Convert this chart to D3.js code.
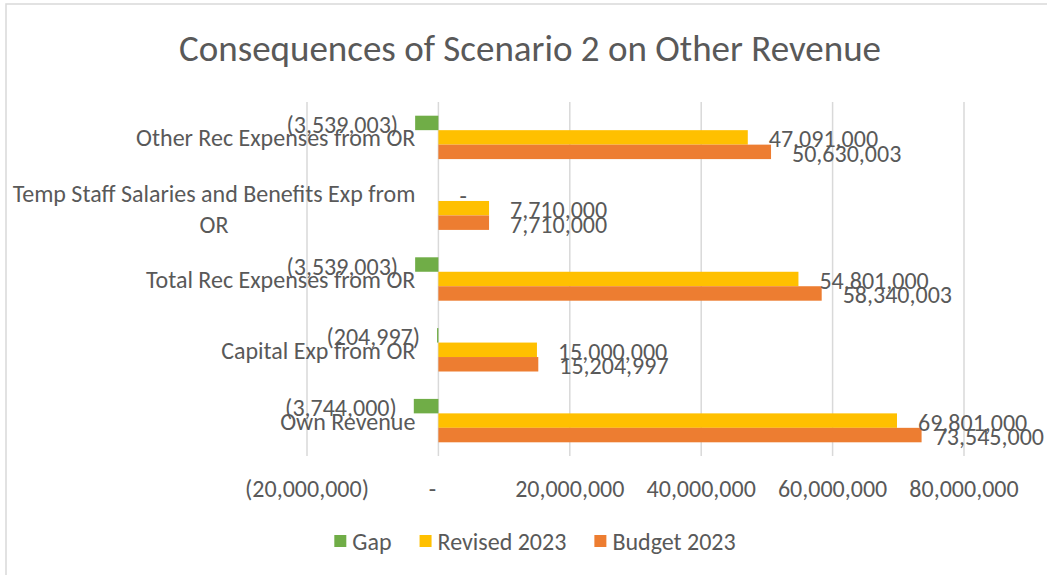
<!DOCTYPE html>
<html>
<head>
<meta charset="utf-8">
<script src="https://cdn.jsdelivr.net/npm/d3@7"></script>
<style>
  body { margin: 0; background: #fff; }
  svg { display: block; font-family: Carlito, Calibri, Lato, sans-serif; }
</style>
</head>
<body>
<svg id="chart" width="1047" height="575"></svg>
<script>
const categories = [
  'Other Rec Expenses from OR',
  'Temp Staff Salaries and Benefits Exp from OR',
  'Total Rec Expenses from OR',
  'Capital Exp from OR',
  'Own Revenue'
]
const seriesNames = ['Gap', 'Revised 2023', 'Budget 2023']
const gap = [-3539003, 0, -3539003, -204997, -3744000]
const revised2023 = [47091000, 7710000, 54801000, 15000000, 69801000]
const budget2023 = [50630003, 7710000, 58340003, 15204997, 73545000]
const tickValues = [-20000000, 0, 20000000, 40000000, 60000000, 80000000]

const colors = { 'Gap': '#70AD47', 'Revised 2023': '#FFC000', 'Budget 2023': '#ED7D31' }
const textColor = '#595959'

const svg = d3.select('#chart')

// outer frame (only top and left visible in the shot)
svg.append('rect')
  .attr('x', 6).attr('y', 4)
  .attr('width', 1100).attr('height', 700)
  .attr('fill', 'none')
  .attr('stroke', '#d9d9d9')
  .attr('stroke-width', 1.5)

svg.append('text')
  .attr('x', 530).attr('y', 48)
  .attr('text-anchor', 'middle')
  .attr('dominant-baseline', 'central')
  .attr('fill', textColor)
  .style('font-size', '37px')
  .text('Consequences of Scenario 2 on Other Revenue')

const x = d3.scaleLinear()
  .domain([-20000000, 80000000])
  .range([307, 964])

const y = d3.scaleBand()
  .domain(categories)
  .range([102, 456])
  .paddingInner(0.387)
  .paddingOuter(0.1935)

const y1 = d3.scaleBand()
  .domain(seriesNames)
  .range([0, y.bandwidth()])

// gridlines
svg.append('g')
  .selectAll('line')
  .data(tickValues)
  .enter()
  .append('line')
  .attr('x1', d => x(d)).attr('x2', d => x(d))
  .attr('y1', 102).attr('y2', 456)
  .attr('stroke', '#d9d9d9')
  .attr('stroke-width', 1.5)

// tick labels
const fmt = d3.format(',')
function tickText(v) {
  if (v === 0) return '-'
  if (v < 0) return '(' + fmt(-v) + ')'
  return fmt(v)
}
svg.append('g')
  .selectAll('text')
  .data(tickValues)
  .enter()
  .append('text')
  .attr('x', d => x(d) + (d === 0 ? -6 : 0))
  .attr('y', 488)
  .attr('text-anchor', 'middle')
  .attr('dominant-baseline', 'central')
  .attr('fill', textColor)
  .style('font-size', '24px')
  .text(tickText)

// rows
const rows = categories.map((c, i) => ({
  category: c,
  values: [
    { name: 'Gap', value: gap[i] },
    { name: 'Revised 2023', value: revised2023[i] },
    { name: 'Budget 2023', value: budget2023[i] }
  ]
}))

const group = svg.append('g')
  .selectAll('g')
  .data(rows)
  .enter()
  .append('g')
  .attr('transform', d => 'translate(0,' + y(d.category) + ')')

group.selectAll('rect')
  .data(d => d.values)
  .enter()
  .append('rect')
  .attr('x', d => x(Math.min(0, d.value)))
  .attr('width', d => Math.abs(x(d.value) - x(0)))
  .attr('y', d => y1(d.name))
  .attr('height', y1.bandwidth())
  .attr('fill', d => colors[d.name])

// category labels, wrapped and centred as a block
const labelRight = x(0) - 23
const maxLabelWidth = 410
const lineH = 31
group.each(function (d) {
  const g = d3.select(this)
  const t = g.append('text')
    .attr('fill', textColor)
    .attr('text-anchor', 'middle')
    .attr('dominant-baseline', 'central')
    .style('font-size', '24px')
  const words = d.category.split(' ')
  const lines = []
  let line = []
  const probe = t.append('tspan')
  words.forEach(w => {
    line.push(w)
    probe.text(line.join(' '))
    if (probe.node().getComputedTextLength() > maxLabelWidth && line.length > 1) {
      line.pop()
      lines.push(line.join(' '))
      line = [w]
    }
  })
  lines.push(line.join(' '))
  probe.remove()
  let blockW = 0
  lines.forEach(l => {
    const s = t.append('tspan').text(l)
    blockW = Math.max(blockW, s.node().getComputedTextLength())
    s.remove()
  })
  const cx = labelRight - blockW / 2
  const cy = y.bandwidth() / 2 - (lines.length - 1) * lineH / 2
  lines.forEach((l, i) => {
    t.append('tspan')
      .attr('x', cx)
      .attr('y', cy + i * lineH)
      .text(l)
  })
})

function valueText(v) {
  if (v === 0) return '-'
  if (v < 0) return '(' + fmt(-v) + ')'
  return fmt(v)
}

// data labels, kept inside the chart area like Excel does
const chartRight = 1044
group.selectAll('text.value')
  .data(d => d.values)
  .enter()
  .append('text')
  .attr('class', 'value')
  .attr('y', d => y1(d.name) + y1.bandwidth() / 2 + 1.5)
  .attr('text-anchor', 'start')
  .attr('dominant-baseline', 'central')
  .attr('fill', textColor)
  .style('font-size', '24px')
  .text(d => valueText(d.value))
  .attr('x', function (d) {
    const w = this.getComputedTextLength()
    if (d.value < 0) return x(d.value) - 17 - w
    return Math.min(x(d.value) + 21, chartRight - w)
  })

// legend
const legend = svg.append('g')
let lx = 0
seriesNames.forEach(name => {
  const it = legend.append('g')
  it.append('rect')
    .attr('x', 0).attr('y', -6)
    .attr('width', 12).attr('height', 12)
    .attr('fill', colors[name])
  const t = it.append('text')
    .attr('x', 18).attr('y', 0)
    .attr('dominant-baseline', 'central')
    .attr('fill', textColor)
    .style('font-size', '24px')
    .text(name)
  it.attr('transform', 'translate(' + lx + ',0)')
  lx += 18 + t.node().getComputedTextLength() + 28
})
const legendW = lx - 28
legend.attr('transform', 'translate(' + (535 - legendW / 2) + ',541)')
</script>
</body>
</html>
